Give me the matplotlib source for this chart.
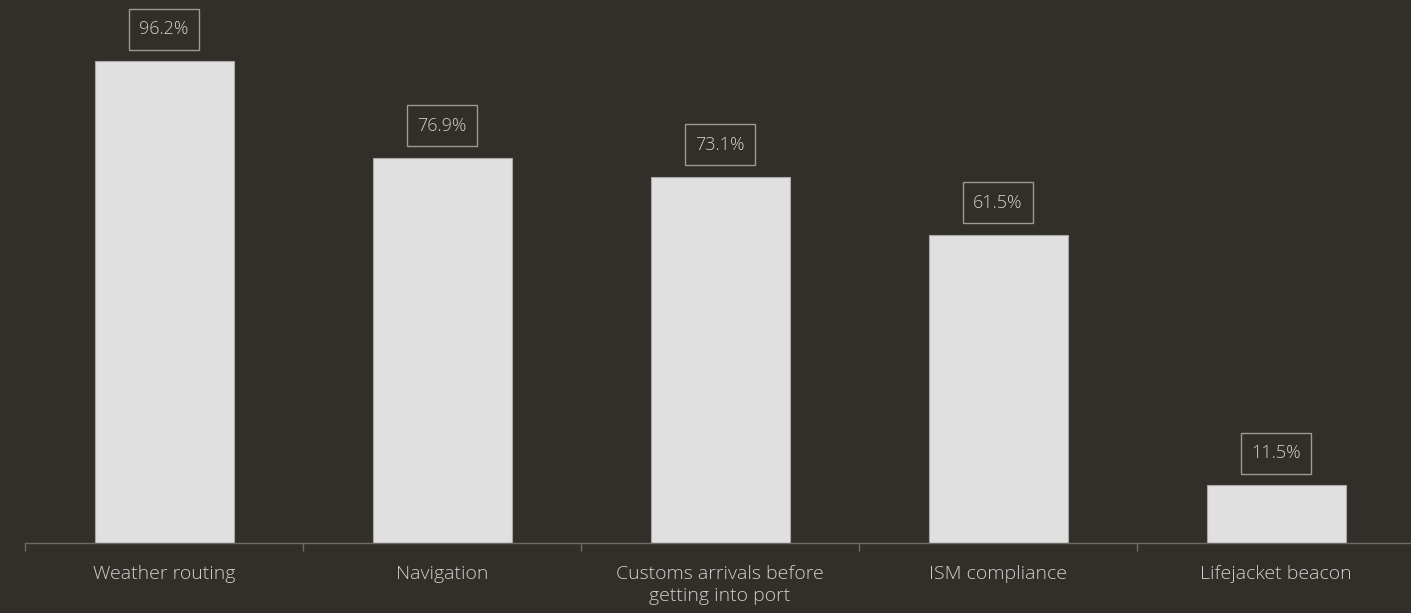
import matplotlib
matplotlib.use("Agg")
import matplotlib.pyplot as plt
from matplotlib.patches import Rectangle

categories = ["Weather routing", "Navigation", "Customs arrivals before\ngetting into port",
              "ISM compliance", "Lifejacket beacon"]
values = [96.2, 76.9, 73.1, 61.5, 11.5]
value_labels = ["96.2%", "76.9%", "73.1%", "61.5%", "11.5%"]

BG = "#322e29"
BAR = "#e0e0e0"
TXT = "#d2d0cd"
AXC = "#6e6a65"

plt.rcParams['font.family'] = ['Open Sans', 'DejaVu Sans']
plt.rcParams['font.weight'] = 'light'

W, H = 1411, 613
fig = plt.figure(figsize=(W / 100, H / 100), dpi=100, facecolor=BG)
ax = fig.add_axes([25 / W, (H - 543) / H, 1390 / W, 501 / H])
ax.set_facecolor(BG)

x = list(range(len(categories)))
ax.bar(x, values, width=0.5, color=BAR, edgecolor="#a9a7a4", linewidth=0.8, zorder=2)
ax.set_xlim(-0.5, len(categories) - 0.5)
ax.set_ylim(0, 100)

for s in ["top", "right", "left"]:
    ax.spines[s].set_visible(False)
ax.spines["bottom"].set_color(AXC)
ax.spines["bottom"].set_linewidth(1.0)
ax.set_yticks([])
ax.set_xticks(x)
ax.set_xticklabels(categories, fontsize=14, color=TXT, linespacing=1.25)
ax.tick_params(axis="x", which="major", length=0, pad=16)
ax.set_xticks([i - 0.5 for i in range(len(categories) + 1)], minor=True)
ax.tick_params(axis="x", which="minor", length=6, color=AXC, width=1.0)

texts = []
for xi, v, lab in zip(x, values, value_labels):
    t = ax.annotate(lab, (xi, v), xytext=(0, 32), textcoords="offset pixels",
                    ha="center", va="center", fontsize=13, color=TXT, zorder=3)
    texts.append(t)

fig.canvas.draw()
r = fig.canvas.get_renderer()
for t in texts:
    bb = t.get_window_extent(renderer=r)
    cx = (bb.x0 + bb.x1) / 2
    cy = (bb.y0 + bb.y1) / 2
    w = bb.width + 20
    h = 41
    rect = Rectangle((cx - w / 2, cy - h / 2), w, h, transform=None,
                     fill=False, edgecolor="#9d9a96", linewidth=1.0, zorder=3)
    fig.add_artist(rect)

fig.savefig("out.png", dpi=100, facecolor=BG)
